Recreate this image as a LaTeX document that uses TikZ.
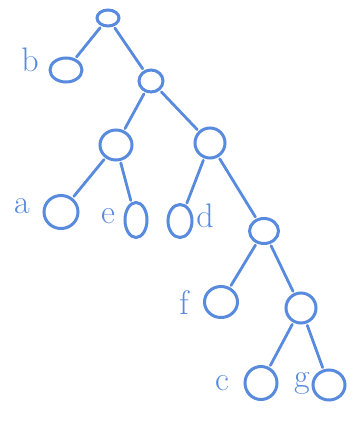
\documentclass[tikz,border=0pt]{standalone}
\usepackage{tikz}
\usetikzlibrary{shapes.geometric}

\definecolor{pen}{RGB}{88,138,222}

\tikzset{
  knot/.style={ellipse, draw=pen, line width=3pt, inner sep=0pt},
  leaf/.style={text=pen, font=\fontsize{34}{38}\selectfont},
  branch/.style={draw=pen, line width=2.8pt, line cap=round, shorten <=2pt, shorten >=2pt}
}

\begin{document}
\begin{tikzpicture}[x=1pt, y=-1pt]
  \useasboundingbox (0,0) rectangle (358,428);
  % inner nodes
  \node[knot, minimum width=22pt, minimum height=16pt] (r) at (108, 18) {};
  \node[knot, minimum width=24pt, minimum height=22pt] (n1) at (151, 81) {};
  \node[knot, minimum width=32pt, minimum height=30pt] (n2) at (116, 145) {};
  \node[knot, minimum width=30pt, minimum height=30pt] (n3) at (210, 143) {};
  \node[knot, minimum width=29pt, minimum height=25pt] (n4) at (264, 231) {};
  \node[knot, minimum width=30pt, minimum height=30pt] (n5) at (301, 308) {};
  % leaves
  \node[knot, minimum width=32pt, minimum height=24pt] (b) at (66, 70) {};
  \node[knot, minimum width=34pt, minimum height=33pt] (a) at (61, 212) {};
  \node[knot, minimum width=22pt, minimum height=35pt] (e) at (136, 220) {};
  \node[knot, minimum width=24pt, minimum height=33pt] (d) at (180, 221) {};
  \node[knot, minimum width=33pt, minimum height=31pt] (f) at (221, 302) {};
  \node[knot, minimum width=32pt, minimum height=33pt] (c) at (261, 383) {};
  \node[knot, minimum width=32pt, minimum height=30pt] (g) at (329, 385) {};
  % labels
  \node[leaf] (lb) at (30, 60) {b};
  \node[leaf] (la) at (22, 206) {a};
  \node[leaf] (le) at (108, 216) {e};
  \node[leaf] (ld) at (205, 216) {d};
  \node[leaf] (lf) at (184, 303) {f};
  \node[leaf] (lc) at (222, 383) {c};
  \node[leaf] (lg) at (302, 383) {g};
  % edges
  \draw[branch] (r) -- (b);
  \draw[branch] (r) -- (n1);
  \draw[branch] (n1) -- (n2);
  \draw[branch] (n1) -- (n3);
  \draw[branch] (n2) -- (a);
  \draw[branch] (n2) -- (e);
  \draw[branch] (n3) -- (d);
  \draw[branch] (n3) -- (n4);
  \draw[branch] (n4) -- (f);
  \draw[branch] (n4) -- (n5);
  \draw[branch] (n5) -- (c);
  \draw[branch] (n5) -- (g);
\end{tikzpicture}
\end{document}
